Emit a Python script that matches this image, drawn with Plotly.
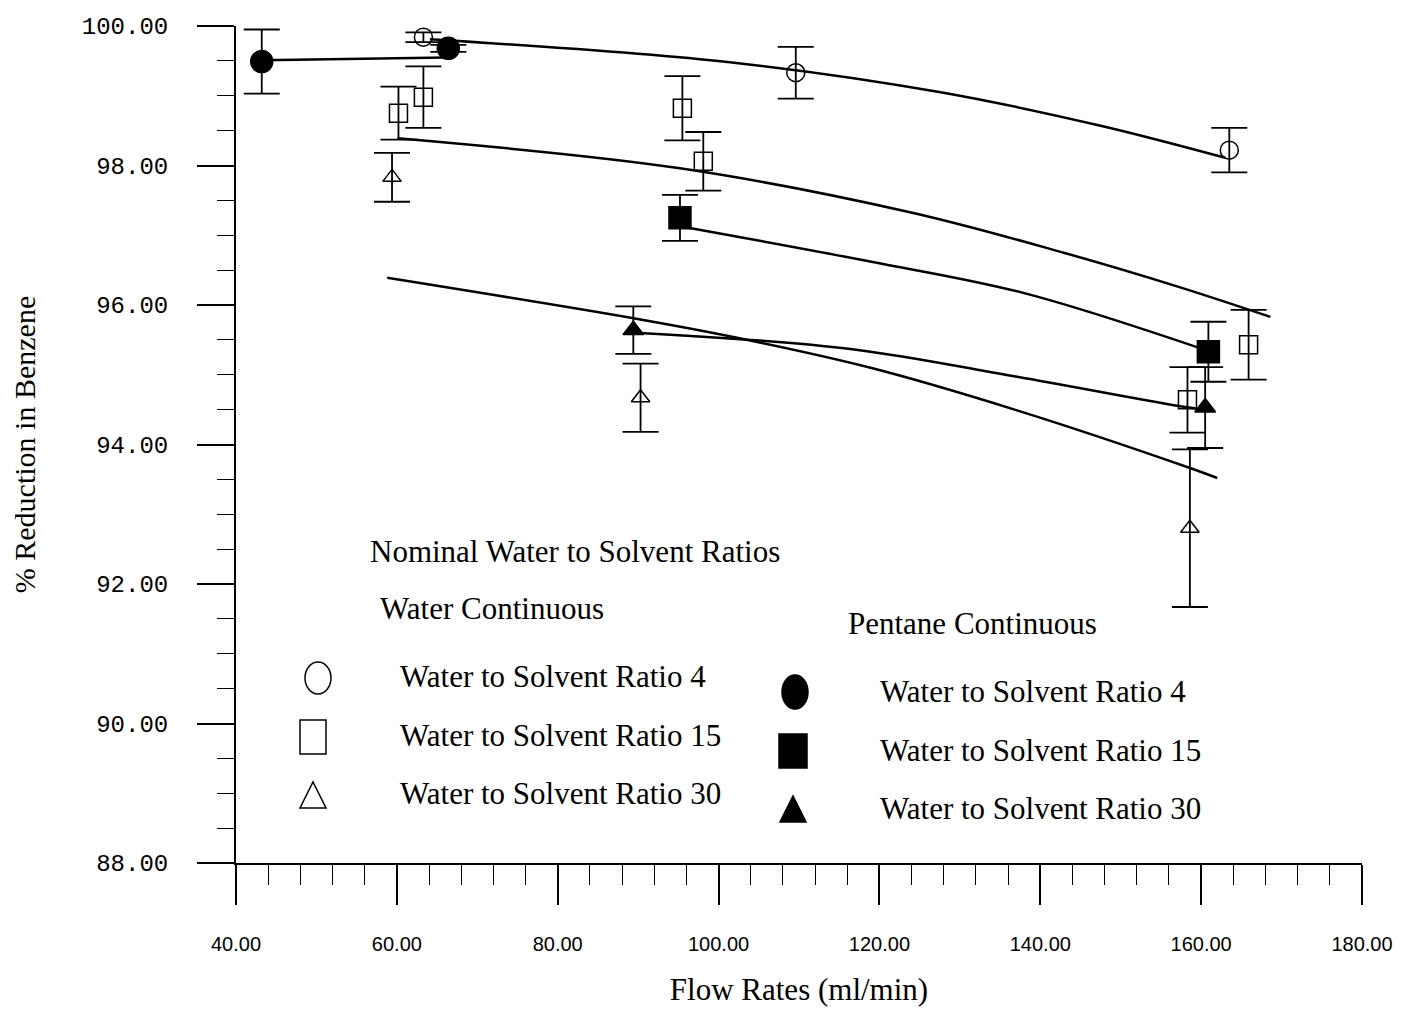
import plotly.graph_objects as go

# ---------------- data ----------------
# Water continuous
w4_x = [63.3, 109.6, 163.5]
w4_y = [99.84, 99.33, 98.22]
w4_err = [0.07, 0.37, 0.32]

w15_x = [60.2, 63.3, 95.5, 98.1, 158.3, 165.9]
w15_y = [98.75, 98.98, 98.82, 98.06, 94.64, 95.43]
w15_err = [0.38, 0.44, 0.46, 0.42, 0.47, 0.50]

w30_x = [59.4, 90.3, 158.6]
w30_y = [97.83, 94.67, 92.80]
w30_err = [0.35, 0.49, 1.13]

# Pentane continuous
p4_x = [43.2, 66.4]
p4_y = [99.49, 99.68]
p4_err = [0.46, 0.05]

p15_x = [95.2, 160.9]
p15_y = [97.25, 95.33]
p15_err = [0.33, 0.43]

p30_x = [89.4, 160.5]
p30_y = [95.64, 94.53]
p30_err = [0.34, 0.58]

# Fitted curves
fit_w4_x = [64.1, 101.4, 127.6, 147.5, 163.0]
fit_w4_y = [99.81, 99.48, 99.05, 98.57, 98.11]
fit_w15_x = [60.1, 95.2, 123.8, 142.9, 157.2, 168.6]
fit_w15_y = [98.39, 97.96, 97.33, 96.75, 96.26, 95.83]
fit_w30_x = [58.8, 89.4, 102.3, 118.9, 137.1, 158.7, 162.0]
fit_w30_y = [96.39, 95.81, 95.53, 95.10, 94.49, 93.66, 93.52]
fit_p4_x = [43.2, 66.2]
fit_p4_y = [99.51, 99.55]
fit_p15_x = [95.2, 119.0, 138.0, 160.9]
fit_p15_y = [97.13, 96.62, 96.17, 95.34]
fit_p30_x = [90.2, 116.4, 137.1, 157.8, 160.5]
fit_p30_y = [95.60, 95.37, 94.97, 94.54, 94.50]

x_tick_vals = [40, 60, 80, 100, 120, 140, 160, 180]
x_tick_text = ["40.00", "60.00", "80.00", "100.00", "120.00", "140.00", "160.00", "180.00"]
y_tick_vals = [88, 90, 92, 94, 96, 98, 100]
y_tick_text = ["88.00", "90.00", "92.00", "94.00", "96.00", "98.00", "100.00"]

legend_title = "Nominal Water to Solvent Ratios"
group_titles = ["Water Continuous", "Pentane Continuous"]
legend_labels = ["Water to Solvent Ratio 4", "Water to Solvent Ratio 15", "Water to Solvent Ratio 30"]

# ---------------- layout geometry (page pixels) ----------------
PAGE_W, PAGE_H = 1405, 1015
BODY = 8  # default page margin around the plot div
W, H = PAGE_W - 2 * BODY, PAGE_H - 2 * BODY
PL, PR, PT, PB = 236, 1362, 26, 863


def pp(xp, yp):
    return (xp - PL) / (PR - PL), (PB - yp) / (PB - PT)


SERIF = "Liberation Serif"

fig = go.Figure()

# fitted curves
for fx, fy in [(fit_w4_x, fit_w4_y), (fit_w15_x, fit_w15_y), (fit_w30_x, fit_w30_y),
               (fit_p4_x, fit_p4_y), (fit_p15_x, fit_p15_y), (fit_p30_x, fit_p30_y)]:
    fig.add_trace(go.Scatter(x=fx, y=fy, mode="lines", line=dict(color="black", width=2.5, shape="spline"),
                             showlegend=False, hoverinfo="skip"))

series = [
    (w4_x, w4_y, w4_err, "circle-open", 18),
    (w15_x, w15_y, w15_err, "square-open", 18),
    (w30_x, w30_y, w30_err, "triangle-up-open", 16),
    (p4_x, p4_y, p4_err, "circle", 22),
    (p15_x, p15_y, p15_err, "square", 22),
    (p30_x, p30_y, p30_err, "triangle-up", 18),
]
for sx, sy, se, sym, sz in series:
    fig.add_trace(go.Scatter(
        x=sx, y=sy, mode="markers",
        marker=dict(symbol=sym, size=sz, color="black", line=dict(color="black", width=1.5)),
        error_y=dict(type="data", array=se, visible=True, color="black", thickness=1.8, width=18),
        showlegend=False))

# ---------------- legend (drawn) ----------------
shapes = []


def ellipse(x0, y0, x1, y1, filled):
    a0, b0 = pp(x0, y1)
    a1, b1 = pp(x1, y0)
    shapes.append(dict(type="circle", xref="paper", yref="paper", x0=a0, y0=b0, x1=a1, y1=b1,
                       line=dict(color="black", width=1.5), fillcolor="black" if filled else "rgba(0,0,0,0)"))


def rect(x0, y0, x1, y1, filled):
    a0, b0 = pp(x0, y1)
    a1, b1 = pp(x1, y0)
    shapes.append(dict(type="rect", xref="paper", yref="paper", x0=a0, y0=b0, x1=a1, y1=b1,
                       line=dict(color="black", width=1.5), fillcolor="black" if filled else "rgba(0,0,0,0)"))


def tri(cx, y0, w, h, filled):
    ax, ay = pp(cx - w / 2, y0 + h)
    bx, by = pp(cx + w / 2, y0 + h)
    tx, ty = pp(cx, y0)
    shapes.append(dict(type="path", xref="paper", yref="paper",
                       path=f"M {ax} {ay} L {bx} {by} L {tx} {ty} Z",
                       line=dict(color="black", width=1.5), fillcolor="black" if filled else "rgba(0,0,0,0)"))


ellipse(305, 662, 331, 694, False)
rect(300, 720, 326, 754, False)
tri(313, 782, 26, 26, False)
ellipse(782, 675, 808, 709, True)
rect(779, 734, 807, 768, True)
tri(793, 796, 26, 26, True)

annotations = []


def text(t, xp, yp, size=31):
    a, b = pp(xp, yp)
    annotations.append(dict(text=t, x=a, y=b, xref="paper", yref="paper", xanchor="left", yanchor="middle",
                            showarrow=False, font=dict(family=SERIF, size=size, color="black")))


text(legend_title, 368, 551)
text(group_titles[0], 378, 608)
text(group_titles[1], 846, 623)
for lbl, yy in zip(legend_labels, [676, 735, 793]):
    text(lbl, 398, yy)
for lbl, yy in zip(legend_labels, [691, 750, 808]):
    text(lbl, 878, yy)

fig.update_layout(
    width=W, height=H,
    margin=dict(l=PL - BODY, r=(PAGE_W - BODY) - PR, t=PT - BODY, b=(PAGE_H - BODY) - PB),
    paper_bgcolor="white", plot_bgcolor="white",
    shapes=shapes, annotations=annotations,
    showlegend=False,
    xaxis=dict(
        range=[40, 180], showgrid=False, zeroline=False, automargin=False,
        showline=True, linecolor="black", linewidth=2,
        ticks="outside", ticklen=40, tickwidth=1.5, tickcolor="black",
        tickvals=x_tick_vals, ticktext=x_tick_text,
        tickfont=dict(family="Liberation Sans", size=20, color="black"),
        ticklabelstandoff=22,
        minor=dict(dtick=4, ticks="outside", ticklen=20, tickwidth=1.3, tickcolor="black"),
        title=dict(text="Flow Rates (ml/min)", font=dict(family=SERIF, size=31, color="black"), standoff=42),
    ),
    yaxis=dict(
        range=[88, 100], showgrid=False, zeroline=False, automargin=False,
        showline=True, linecolor="black", linewidth=2,
        ticks="outside", ticklen=37, tickwidth=1.5, tickcolor="black",
        tickvals=y_tick_vals, ticktext=y_tick_text,
        tickfont=dict(family="Liberation Mono", size=24, color="black"),
        ticklabelstandoff=24,
        minor=dict(dtick=0.5, ticks="outside", ticklen=17, tickwidth=1.3, tickcolor="black"),
        title=dict(text="% Reduction in Benzene", font=dict(family=SERIF, size=30, color="black"), standoff=44),
    ),
)

fig.write_html("out.html")
